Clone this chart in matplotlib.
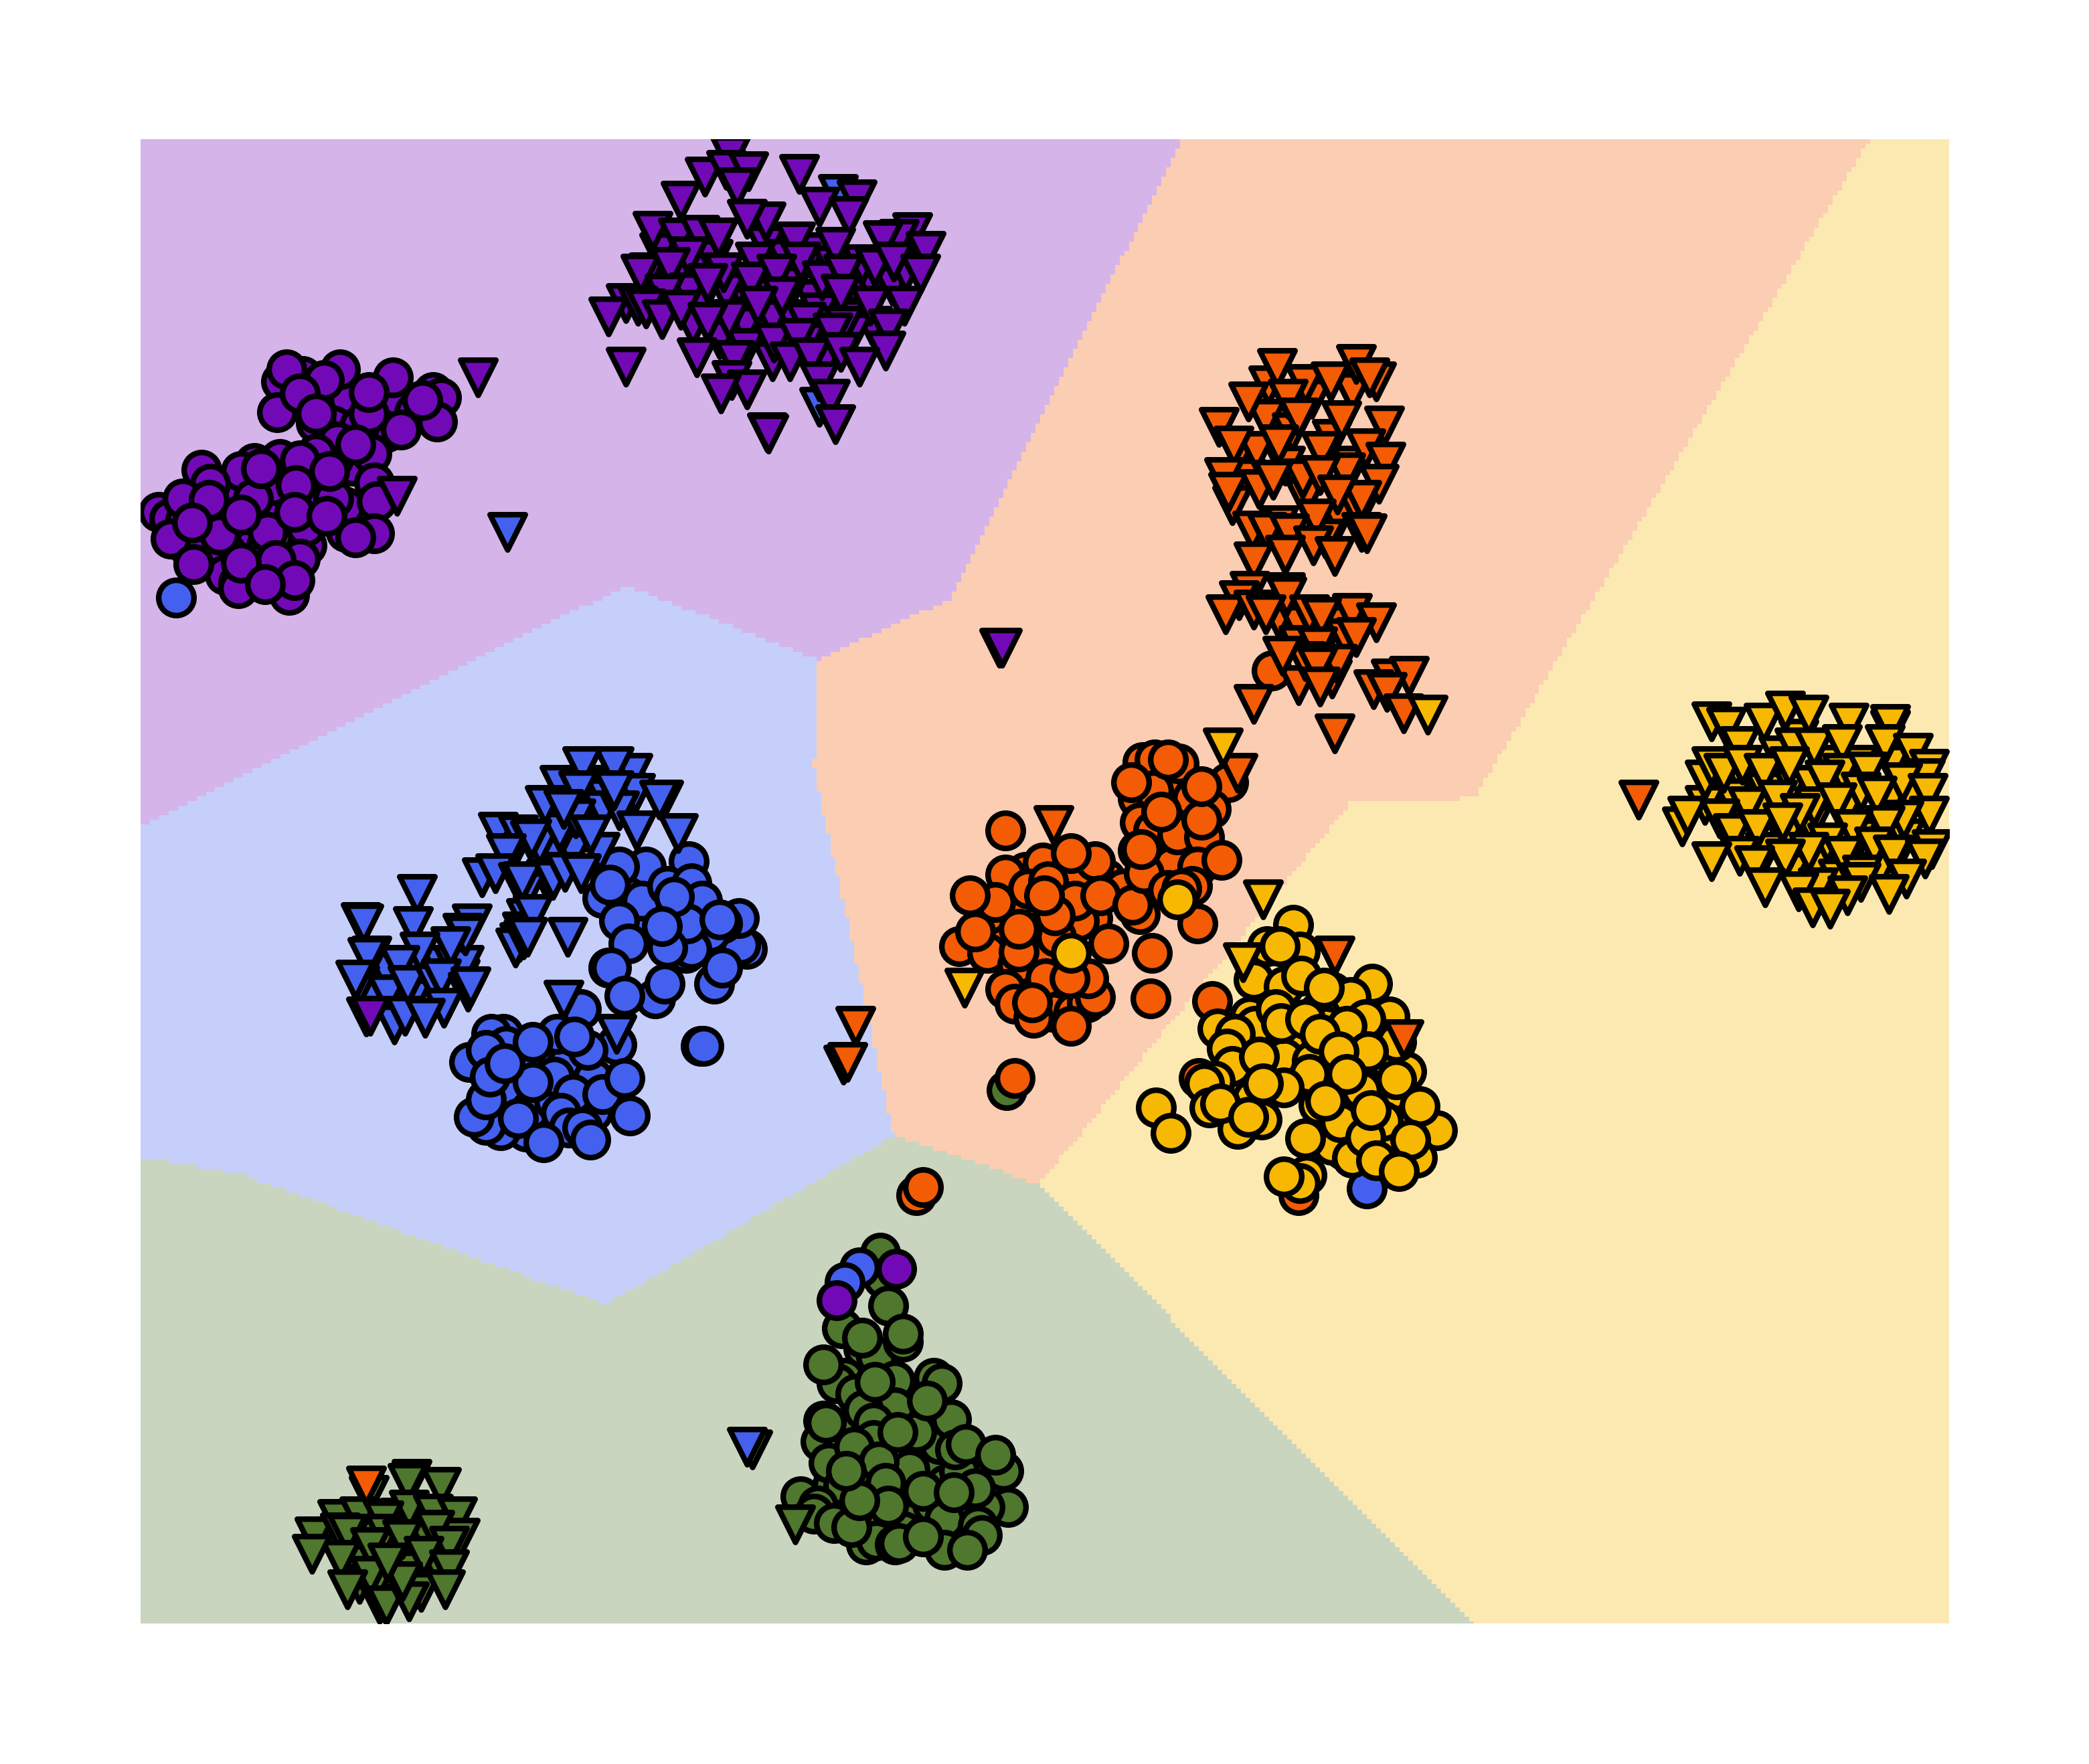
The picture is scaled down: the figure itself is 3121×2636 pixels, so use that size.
import numpy as np
import matplotlib
matplotlib.use("Agg")
import matplotlib.pyplot as plt
from matplotlib.colors import ListedColormap
from matplotlib.path import Path

# --- colours ---
PURPLE = "#7209b7"
ORANGE = "#f35b04"
YELLOW = "#f7b801"
BLUE = "#4361ee"
GREEN = "#4f772d"

# --- decision regions (corner points) ---
purple_region = [(105, 105), (887, 105), (714, 450), (614, 496), (470, 440), (105, 621)]
orange_region = [(887, 105), (1404, 105), (1107, 600), (1015, 602), (780, 890), (671, 853),
                 (610, 573), (613, 565), (614, 496), (714, 450)]
yellow_region = [(1404, 105), (1464, 105), (1464, 1220), (1105, 1220), (780, 890), (1015, 602), (1107, 600)]
blue_region = [(105, 621), (470, 440), (614, 496), (613, 565), (610, 573), (671, 853), (455, 980),
               (180, 882), (105, 870)]
green_region = [(105, 870), (180, 882), (455, 980), (671, 853), (780, 890), (1105, 1220), (105, 1220)]

# --- circles ---
green_circles = [(650, 1100), (700, 1100), (710, 1115), (680, 1130), (690, 1140), (660, 1140), (625, 1115),
                 (720, 1140), (640, 1135), (650, 1160), (705, 1085), (640, 1070), (655, 1110), (700, 1130),
                 (720, 1105), (630, 1075),
                 (661, 941), (663, 960), (667, 981), (632, 998), (648, 1013), (658, 1019), (678, 1008),
                 (634, 1035), (628, 1039), (672, 1037), (642, 1047), (701, 1035), (707, 1039), (672, 1057),
                 (648, 1059), (714, 1066), (618, 1067), (616, 1083), (688, 1076), (656, 1069), (656, 1082),
                 (717, 1089), (753, 1105), (622, 1099), (683, 1104), (633, 1116), (757, 1132), (739, 1132),
                 (601, 1124), (614, 1131), (611, 1137), (626, 1144), (709, 1141), (734, 1146), (737, 1153),
                 (678, 1150), (658, 1157), (672, 1160), (675, 1159), (709, 1164), (726, 1164), (641, 1087),
                 (660, 1098), (665, 1114), (667, 1131), (693, 1120), (732, 1118), (716, 1121), (639, 1147),
                 (645, 1127), (635, 1105), (620, 1069), (674, 1076), (696, 1052), (725, 1085), (747, 1093),
                 (693, 1154), (618, 1025), (657, 1038), (647, 1005), (678, 1002), (756, 819)]
blue_circles = [(500, 685), (510, 705), (525, 695), (490, 690), (480, 700), (410, 800), (425, 800), (395, 805),
                (410, 825), (445, 810), (445, 835), (395, 850), (390, 815), (1026, 893),
                (132, 449), (517, 647), (485, 651), (460, 655), (465, 651), (452, 675), (470, 680),
                (482, 677), (501, 666), (519, 664), (527, 677), (561, 713), (556, 710), (555, 690),
                (542, 694), (533, 701), (515, 716), (519, 713), (516, 694), (465, 692), (501, 712),
                (506, 674), (497, 696), (458, 665), (472, 709), (457, 727), (459, 727), (536, 739),
                (542, 727), (492, 750), (469, 748), (499, 739), (540, 691), (436, 758), (378, 777),
                (369, 777), (418, 777), (463, 785), (352, 798), (441, 789), (380, 786), (365, 789),
                (385, 821), (398, 834), (416, 827), (432, 832), (416, 809), (430, 822), (452, 822),
                (376, 849), (365, 845), (356, 839), (365, 826), (368, 809), (421, 836), (427, 847),
                (437, 847), (389, 840), (473, 838), (469, 810), (400, 813), (379, 799), (400, 783),
                (431, 779), (408, 858), (443, 856), (526, 786), (528, 786), (645, 952), (634, 963)]
purple_circles = [(240, 300), (262, 300), (290, 300), (250, 320), (290, 325), (265, 350), (250, 345), (215, 375),
                  (175, 375), (150, 395), (190, 410), (205, 385), (170, 415), (195, 425), (245, 370), (260, 400),
                  (230, 375), (210, 345), (300, 300), (270, 320), (165, 390),
                  (227, 283), (255, 278), (295, 284), (325, 295), (331, 299), (211, 287), (243, 286),
                  (208, 310), (311, 310), (328, 317), (301, 323), (237, 318), (277, 311), (253, 332),
                  (279, 341), (237, 341), (225, 346), (191, 348), (151, 353), (181, 354), (281, 363),
                  (205, 365), (158, 364), (119, 385), (127, 390), (139, 391), (187, 387), (259, 381),
                  (283, 377), (200, 410), (160, 385), (230, 410), (190, 375), (140, 410), (250, 375),
                  (201, 400), (165, 402), (128, 405), (229, 396), (281, 401), (169, 432), (179, 438),
                  (179, 442), (217, 447), (225, 420), (207, 421), (221, 436), (215, 278), (225, 296),
                  (237, 311), (277, 295), (317, 301), (267, 334), (196, 352), (247, 354), (222, 365),
                  (137, 375), (157, 376), (144, 393), (181, 387), (221, 385), (245, 388), (267, 404),
                  (145, 424), (181, 423), (199, 439), (673, 953), (628, 977)]
orange_circles = [(770, 690), (780, 700), (790, 720), (745, 700), (820, 690), (770, 735), (795, 745), (790, 760),
                  (780, 720), (750, 695), (800, 690), (815, 665), (760, 680), (770, 655), (880, 595), (885, 610),
                  (895, 600), (875, 625), (860, 605), (890, 640), (830, 660), (805, 660), (880, 650),
                  (688, 898), (693, 892), (955, 504), (755, 624), (822, 647), (783, 648), (755, 657),
                  (772, 668), (787, 662), (843, 668), (856, 687), (810, 692), (742, 687), (720, 711),
                  (741, 716), (793, 704), (764, 725), (755, 743), (762, 754), (776, 765), (806, 760),
                  (816, 753), (822, 749), (817, 735), (785, 735), (804, 641), (747, 678), (728, 673),
                  (807, 677), (792, 688), (826, 673), (850, 680), (732, 700), (765, 715), (765, 698),
                  (832, 709), (865, 716), (899, 694), (803, 735), (775, 753), (804, 771), (864, 750),
                  (784, 673), (910, 752), (900, 810), (762, 810), (1009, 864), (975, 898), (922, 588),
                  (858, 573), (867, 571), (885, 574), (854, 600), (866, 594), (856, 618), (866, 624),
                  (884, 627), (904, 629), (854, 639), (899, 651), (859, 656), (895, 666), (877, 669),
                  (887, 668), (917, 646), (857, 638), (909, 608), (902, 616), (872, 610), (902, 591),
                  (849, 588), (877, 571)]
yellow_circles = [(990, 760), (1000, 770), (985, 790), (1000, 810), (1015, 800), (1030, 810), (1035, 775),
                  (960, 790), (950, 760), (975, 805), (1000, 745), (1020, 780), (990, 830), (1015, 830),
                  (1040, 825), (1020, 850), (1045, 845), (1000, 860), (1015, 870), (1040, 860), (960, 770),
                  (930, 790), (935, 810), (920, 820), (940, 825), (1040, 795),
                  (971, 695), (951, 711), (976, 715), (1030, 739), (941, 736), (964, 741), (1014, 749),
                  (1043, 764), (938, 764), (942, 771), (914, 773), (927, 777), (966, 779), (977, 783),
                  (921, 788), (964, 795), (925, 801), (1056, 805), (985, 797), (1048, 783), (983, 807),
                  (1022, 819), (964, 817), (912, 812), (904, 814), (1038, 842), (1006, 843), (908, 832),
                  (947, 841), (929, 848), (1079, 849), (1025, 854), (1064, 870), (1033, 872), (981, 883),
                  (976, 889), (961, 711), (977, 733), (994, 742), (958, 758), (962, 769), (980, 766),
                  (1025, 766), (1011, 771), (991, 777), (1027, 790), (1005, 790), (945, 794), (1011, 807),
                  (1048, 811), (948, 814), (995, 827), (1029, 834), (1066, 831), (916, 829), (937, 839),
                  (868, 832), (879, 851), (980, 855), (1059, 856), (1050, 880), (964, 884), (884, 676),
                  (804, 716)]

# --- triangles ---
green_triangles = [(262, 1160), (275, 1150), (295, 1165), (300, 1175), (310, 1180), (325, 1165), (330, 1180),
                   (265, 1175), (285, 1175), (270, 1190), (295, 1195), (305, 1190), (285, 1205), (320, 1155),
                   (300, 1140),
                   (309, 1111), (306, 1114), (331, 1117), (277, 1123), (307, 1134), (325, 1137), (343, 1139),
                   (253, 1141), (270, 1139), (288, 1142), (345, 1155), (236, 1154), (255, 1151), (261, 1152),
                   (289, 1152), (326, 1149), (302, 1156), (278, 1162), (337, 1161), (256, 1172), (318, 1169),
                   (337, 1179), (283, 1188), (278, 1184), (316, 1196), (290, 1206), (307, 1203), (302, 1188),
                   (334, 1194), (291, 1174), (234, 1167), (261, 1194), (597, 1145), (565, 1089)]
blue_triangles = [(445, 590), (470, 595), (455, 600), (440, 625), (430, 640), (415, 640), (405, 635), (450, 640),
                  (420, 625), (410, 660), (395, 690), (392, 700), (390, 708), (395, 670), (285, 725), (300, 740),
                  (315, 730), (330, 725), (340, 725), (290, 730), (310, 750), (280, 750), (345, 735), (348, 725),
                  (270, 740), (420, 590), (475, 600), (385, 640),
                  (629, 146), (615, 306), (381, 400), (561, 1087), (475, 581), (461, 576), (437, 576),
                  (434, 594), (477, 596), (498, 601), (495, 601), (409, 605), (452, 609), (465, 609),
                  (432, 615), (423, 608), (461, 594), (443, 627), (478, 624), (509, 626), (374, 625),
                  (389, 627), (398, 631), (399, 630), (380, 641), (362, 659), (372, 656), (389, 663),
                  (392, 662), (415, 661), (424, 655), (436, 656), (313, 672), (271, 693), (273, 694),
                  (400, 687), (426, 704), (387, 712), (393, 706), (396, 704), (310, 696), (354, 694),
                  (347, 701), (349, 703), (338, 711), (279, 718), (276, 719), (315, 715), (300, 725),
                  (267, 736), (291, 747), (306, 740), (326, 739), (331, 735), (351, 745), (353, 741),
                  (333, 757), (275, 764), (296, 770), (304, 763), (319, 765), (423, 751), (463, 777)]
purple_triangles = [(495, 190), (520, 205), (535, 195), (555, 215), (575, 185), (590, 195), (610, 190), (625, 200),
                    (640, 215), (655, 215), (670, 215), (680, 205), (610, 225), (595, 215), (575, 215), (545, 220),
                    (525, 228), (505, 212), (492, 225), (470, 228), (560, 245), (580, 240), (595, 240), (615, 235),
                    (645, 240), (655, 245), (520, 245), (540, 255), (620, 270), (640, 250), (560, 262), (580, 272),
                    (605, 258),
                    (548, 117), (529, 133), (545, 128), (562, 129), (553, 141), (600, 131), (615, 156),
                    (643, 150), (637, 163), (511, 151), (575, 167), (561, 165), (490, 174), (509, 179),
                    (525, 177), (539, 179), (597, 182), (685, 175), (675, 180), (663, 181), (695, 189),
                    (627, 186), (567, 197), (601, 197), (517, 193), (487, 205), (481, 206), (503, 201),
                    (543, 205), (564, 212), (617, 211), (647, 199), (657, 201), (671, 197), (691, 206),
                    (633, 206), (583, 206), (517, 220), (499, 221), (531, 213), (587, 223), (679, 230),
                    (653, 230), (631, 221), (457, 238), (479, 230), (485, 232), (497, 240), (511, 233),
                    (547, 240), (531, 242), (569, 230), (605, 242), (633, 245), (667, 247), (625, 250),
                    (523, 269), (551, 271), (581, 258), (599, 254), (593, 272), (609, 269), (631, 265),
                    (665, 264), (645, 276), (470, 276), (549, 286), (561, 293), (541, 296), (615, 287),
                    (623, 300), (627, 319), (576, 325), (577, 326), (359, 284), (298, 373), (278, 763),
                    (750, 487), (752, 487), (1286, 590)]
orange_triangles = [(952, 290), (985, 300), (1015, 295), (950, 315), (930, 340), (970, 325), (1000, 330),
                    (1015, 350), (965, 350), (935, 360), (980, 375), (1005, 390), (960, 395), (925, 380),
                    (995, 405), (1020, 385), (960, 465), (975, 470), (1000, 470), (1010, 480), (975, 485),
                    (1000, 510), (975, 515),
                    (959, 277), (1018, 274), (1033, 287), (980, 289), (1028, 284), (999, 287), (967, 300),
                    (937, 302), (975, 314), (915, 321), (1007, 316), (1039, 320), (943, 339), (926, 335),
                    (960, 334), (992, 339), (1025, 337), (1040, 347), (1010, 355), (978, 360), (919, 359),
                    (922, 370), (945, 368), (956, 361), (991, 357), (1035, 364), (1022, 376), (1004, 372),
                    (988, 390), (940, 399), (951, 400), (968, 401), (1022, 400), (1026, 401), (986, 410),
                    (965, 417), (1002, 418), (941, 422), (938, 444), (965, 445), (966, 448), (930, 451),
                    (920, 462), (941, 458), (950, 462), (983, 462), (1015, 461), (1033, 468), (992, 464),
                    (1018, 479), (989, 486), (980, 497), (963, 493), (1004, 499), (989, 501), (991, 516),
                    (1044, 510), (1058, 508), (1031, 518), (1041, 520), (941, 529), (1054, 536), (1002, 551),
                    (929, 581), (791, 620), (1002, 718), (1054, 781), (642, 771), (633, 800), (636, 798),
                    (1230, 601), (275, 1116)]
yellow_triangles = [(1310, 590), (1325, 595), (1345, 590), (1360, 590), (1395, 575), (1420, 575), (1435, 600),
                    (1420, 600), (1385, 610), (1340, 630), (1325, 640), (1345, 655), (1365, 650), (1400, 650),
                    (1410, 655), (1380, 660), (1300, 600), (1280, 605), (1320, 610), (1395, 630), (1360, 620),
                    (1350, 555), (1375, 575), (1430, 630),
                    (1072, 537), (918, 562), (724, 742), (948, 676), (933, 723), (1285, 542), (1296, 546),
                    (1324, 543), (1340, 534), (1358, 537), (1388, 543), (1419, 548), (1419, 544), (1306, 561),
                    (1335, 568), (1347, 562), (1362, 562), (1383, 559), (1415, 559), (1436, 566), (1448, 578),
                    (1280, 586), (1285, 576), (1294, 581), (1308, 575), (1324, 581), (1343, 576), (1383, 581),
                    (1402, 580), (1370, 586), (1445, 585), (1428, 588), (1397, 595), (1447, 596), (1409, 598),
                    (1263, 621), (1267, 613), (1312, 606), (1334, 601), (1362, 606), (1379, 603), (1351, 611),
                    (1291, 615), (1301, 626), (1319, 623), (1338, 618), (1448, 613), (1429, 616), (1415, 620),
                    (1391, 623), (1372, 633), (1407, 636), (1450, 638), (1306, 643), (1358, 640), (1340, 645),
                    (1384, 643), (1421, 642), (1445, 645), (1285, 647), (1317, 650), (1431, 660), (1398, 657),
                    (1397, 663), (1325, 667), (1365, 667), (1350, 670), (1387, 673), (1418, 672), (1361, 682),
                    (1374, 683)]

# --- background grid, coarse so the edges come out stepped ---
xs = np.arange(105.5, 1468, 3.5)
ys = np.arange(105.0, 1224, 3.5)
gx, gy = np.meshgrid(xs, ys)
pts = np.column_stack([gx.ravel() + 1.75, gy.ravel() + 1.75])
labels = np.zeros(len(pts), dtype=int)
regions = [green_region, blue_region, purple_region, orange_region, yellow_region]
for i, poly in enumerate(regions):
    labels[Path(poly).contains_points(pts)] = i
labels = labels.reshape(gx.shape)[:-1, :-1]

fig = plt.figure(figsize=(3121 / 300, 2637 / 300), dpi=300)
ax = fig.add_axes([210 / 3121, 1 - 2427 / 2637, 2702 / 3121, 2218 / 2637])
ax.pcolormesh(xs, ys, labels, cmap=ListedColormap([GREEN, BLUE, PURPLE, ORANGE, YELLOW]),
              vmin=-0.5, vmax=4.5, alpha=0.3, linewidth=0, rasterized=True)

groups = [(green_circles, GREEN, "o"), (blue_circles, BLUE, "o"), (purple_circles, PURPLE, "o"),
          (orange_circles, ORANGE, "o"), (yellow_circles, YELLOW, "o"),
          (green_triangles, GREEN, "v"), (blue_triangles, BLUE, "v"), (purple_triangles, PURPLE, "v"),
          (orange_triangles, ORANGE, "v"), (yellow_triangles, YELLOW, "v")]
for points, color, marker in groups:
    arr = np.array(points)
    ax.scatter(arr[:, 0], arr[:, 1], s=160, c=color, marker=marker, edgecolors="black", linewidths=2)

ax.set_xlim(105.5, 1463.3)
ax.set_ylim(1219.5, 105)
ax.set_axis_off()
fig.savefig("out.png", dpi=300)
